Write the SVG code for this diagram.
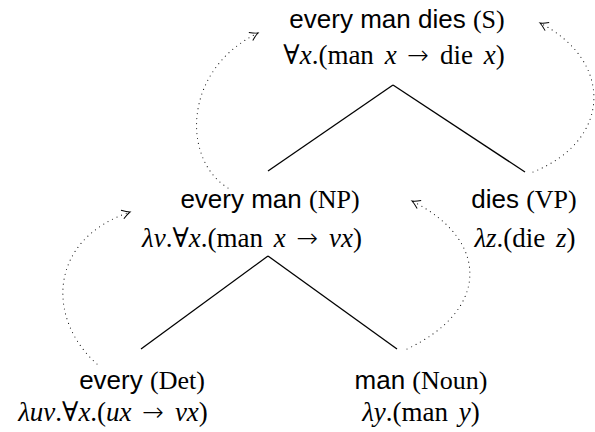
<svg xmlns="http://www.w3.org/2000/svg" width="595" height="432" viewBox="0 0 595 432">
<defs>
<style>
.lbl{font-family:"Liberation Sans",Arial,sans-serif;font-size:26px;fill:#000}
.cat{font-family:"Liberation Serif","Times New Roman",serif}
.f{font-family:"Liberation Serif","DejaVu Serif",serif;font-size:27px;fill:#000;word-spacing:4px}
.i{font-style:italic}
.ar{font-family:"DejaVu Sans",sans-serif;font-size:26px;font-weight:200}
.edge{stroke:#000;stroke-width:1.3;fill:none}
.dot{stroke:#222;stroke-width:1.2;fill:none;stroke-dasharray:0 5;stroke-linecap:round}
</style>
<marker id="ah" viewBox="-10 -6 12 12" markerWidth="12" markerHeight="12" refX="0" refY="0" orient="auto" markerUnits="userSpaceOnUse">
<path d="M-8,-4.5 Q-3,-1 0,0 Q-3,1 -8,4.5" fill="none" stroke="#000" stroke-width="1" stroke-dasharray="none"/>
</marker>
</defs>
<g id="connectors">
<line class="edge" x1="393" y1="85" x2="268" y2="171"/>
<line class="edge" x1="393" y1="85" x2="525" y2="172"/>
<line class="edge" x1="268" y1="256" x2="141" y2="349"/>
<line class="edge" x1="268" y1="256" x2="397" y2="349"/>
<path class="dot" d="M97,364 C47,320 47,240 130,212" marker-end="url(#ah)"/>
<path class="dot" d="M407,349 C490,310 490,240 412,201" marker-end="url(#ah)"/>
<path class="dot" d="M228,188 C182,160 182,70 258,33" marker-end="url(#ah)"/>
<path class="dot" d="M533,172 C613,140 613,60 540,23" marker-end="url(#ah)"/>
</g>
<g id="node-S">
<text class="lbl" x="397" y="28" text-anchor="middle">every man dies <tspan class="cat">(S)</tspan></text>
<text class="f" x="394" y="64" text-anchor="middle">∀<tspan class="i">x</tspan>.(man <tspan class="i">x</tspan> <tspan class="ar">→</tspan> die <tspan class="i">x</tspan>)</text>
</g>
<g id="node-NP">
<text class="lbl" x="270" y="208" text-anchor="middle">every man <tspan class="cat">(NP)</tspan></text>
<text class="f" x="252" y="247" text-anchor="middle"><tspan class="i">λv</tspan>.∀<tspan class="i">x</tspan>.(man <tspan class="i">x</tspan> <tspan class="ar">→</tspan> <tspan class="i">vx</tspan>)</text>
</g>
<g id="node-VP">
<text class="lbl" x="524" y="208" text-anchor="middle">dies <tspan class="cat">(VP)</tspan></text>
<text class="f" x="525" y="247" text-anchor="middle"><tspan class="i">λz</tspan>.(die <tspan class="i">z</tspan>)</text>
</g>
<g id="node-Det">
<text class="lbl" x="142" y="389" text-anchor="middle">every <tspan class="cat">(Det)</tspan></text>
<text class="f" x="113" y="421" text-anchor="middle"><tspan class="i">λuv</tspan>.∀<tspan class="i">x</tspan>.(<tspan class="i">ux</tspan> <tspan class="ar">→</tspan> <tspan class="i">vx</tspan>)</text>
</g>
<g id="node-Noun">
<text class="lbl" x="421" y="389" text-anchor="middle">man <tspan class="cat">(Noun)</tspan></text>
<text class="f" x="421" y="421" text-anchor="middle"><tspan class="i">λy</tspan>.(man <tspan class="i">y</tspan>)</text>
</g>
</svg>
